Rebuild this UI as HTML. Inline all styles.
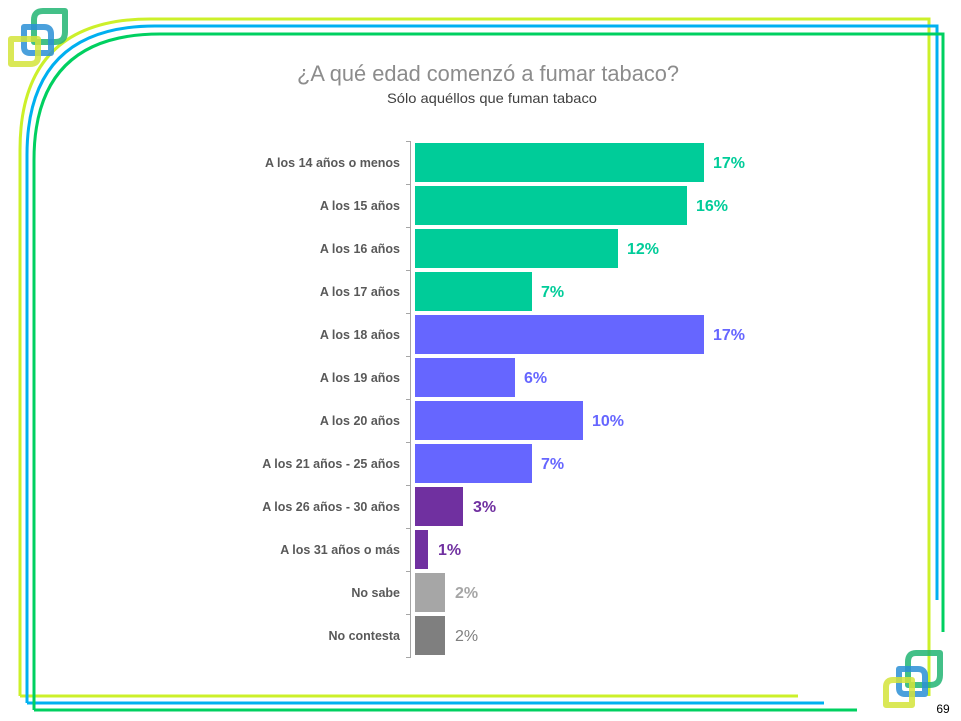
<!DOCTYPE html>
<html><head><meta charset="utf-8"><style>
html,body{margin:0;padding:0;background:#fff;}
svg{display:block;}
</style></head><body>
<svg width="961" height="721" viewBox="0 0 961 721" xmlns="http://www.w3.org/2000/svg" font-family="Liberation Sans, sans-serif">
<g fill="none" stroke-width="3">
<path d="M20,696 L20,150 Q20,19 150,19 L929,19 L929,696" stroke="#ccf02a"/>
<path d="M20,696 L798,696" stroke="#ccf02a"/>
<path d="M27,703 L27,155 Q27,26 155,26 L937,26 L937,600" stroke="#00b0f0"/>
<path d="M27,703 L824,703" stroke="#00b0f0"/>
<path d="M34,710 L34,160 Q34,34 160,34 L943,34 L943,632" stroke="#00d060"/>
<path d="M34,710 L857,710" stroke="#00d060"/>
</g>
<g fill="none" stroke-width="6" stroke-linejoin="round">
<path d="M43,11 H65 V32 Q65,42 55,42 H34 V20 Q34,11 43,11 Z" stroke="#22b573" opacity="0.85"/>
<path d="M24,27 H44 Q51,27 51,34 V53 H30 Q24,53 24,47 Z" stroke="#2a8fd6" opacity="0.85"/>
<path d="M11,39 H38 V57 Q38,64 30,64 H11 Z" stroke="#d4e43a" opacity="0.85"/>
<path d="M916,653 H940 V675 Q940,685 930,685 H908 V662 Q908,653 916,653 Z" stroke="#22b573" opacity="0.85"/>
<path d="M899,669 H918 Q925,669 925,676 V694 H905 Q899,694 899,688 Z" stroke="#2a8fd6" opacity="0.85"/>
<path d="M893,680 H912 V705 H886 V687 Q886,680 893,680 Z" stroke="#d4e43a" opacity="0.85"/>
</g>
<text x="943" y="713" font-size="12" fill="#000" text-anchor="middle">69</text>
<text x="488" y="81" font-size="22" fill="#8c8c8c" text-anchor="middle" textLength="382" lengthAdjust="spacingAndGlyphs">¿A qué edad comenzó a fumar tabaco?</text>
<text x="492" y="103" font-size="14" fill="#404040" text-anchor="middle" textLength="210" lengthAdjust="spacingAndGlyphs">Sólo aquéllos que fuman tabaco</text>
<g stroke="#a6a6a6" stroke-width="1">
<line x1="410.5" y1="141" x2="410.5" y2="657"/>
<line x1="406" y1="141.5" x2="411" y2="141.5"/><line x1="406" y1="184.5" x2="411" y2="184.5"/><line x1="406" y1="227.5" x2="411" y2="227.5"/><line x1="406" y1="270.5" x2="411" y2="270.5"/><line x1="406" y1="313.5" x2="411" y2="313.5"/><line x1="406" y1="356.5" x2="411" y2="356.5"/><line x1="406" y1="399.5" x2="411" y2="399.5"/><line x1="406" y1="442.5" x2="411" y2="442.5"/><line x1="406" y1="485.5" x2="411" y2="485.5"/><line x1="406" y1="528.5" x2="411" y2="528.5"/><line x1="406" y1="571.5" x2="411" y2="571.5"/><line x1="406" y1="614.5" x2="411" y2="614.5"/><line x1="406" y1="657.5" x2="411" y2="657.5"/>
</g>
<g>
<rect x="415" y="143" width="289" height="39" fill="#00cc99"/>
<rect x="415" y="186" width="272" height="39" fill="#00cc99"/>
<rect x="415" y="229" width="203" height="39" fill="#00cc99"/>
<rect x="415" y="272" width="117" height="39" fill="#00cc99"/>
<rect x="415" y="315" width="289" height="39" fill="#6666ff"/>
<rect x="415" y="358" width="100" height="39" fill="#6666ff"/>
<rect x="415" y="401" width="168" height="39" fill="#6666ff"/>
<rect x="415" y="444" width="117" height="39" fill="#6666ff"/>
<rect x="415" y="487" width="48" height="39" fill="#7030a0"/>
<rect x="415" y="530" width="13" height="39" fill="#7030a0"/>
<rect x="415" y="573" width="30" height="39" fill="#a6a6a6"/>
<rect x="415" y="616" width="30" height="39" fill="#7f7f7f"/>
</g>
<g font-size="12.5" font-weight="bold" fill="#595959" text-anchor="end">
<text x="400" y="167">A los 14 años o menos</text>
<text x="400" y="210">A los 15 años</text>
<text x="400" y="253">A los 16 años</text>
<text x="400" y="296">A los 17 años</text>
<text x="400" y="339">A los 18 años</text>
<text x="400" y="382">A los 19 años</text>
<text x="400" y="425">A los 20 años</text>
<text x="400" y="468">A los 21 años - 25 años</text>
<text x="400" y="511">A los 26 años - 30 años</text>
<text x="400" y="554">A los 31 años o más</text>
<text x="400" y="597">No sabe</text>
<text x="400" y="640">No contesta</text>
</g>
<g font-size="16" font-weight="bold">
<text x="713" y="168" fill="#00cc99">17%</text>
<text x="696" y="211" fill="#00cc99">16%</text>
<text x="627" y="254" fill="#00cc99">12%</text>
<text x="541" y="297" fill="#00cc99">7%</text>
<text x="713" y="340" fill="#6666ff">17%</text>
<text x="524" y="383" fill="#6666ff">6%</text>
<text x="592" y="426" fill="#6666ff">10%</text>
<text x="541" y="469" fill="#6666ff">7%</text>
<text x="473" y="512" fill="#7030a0">3%</text>
<text x="438" y="555" fill="#7030a0">1%</text>
<text x="455" y="598" fill="#a6a6a6">2%</text>
<text x="455" y="641" fill="#7f7f7f" font-weight="normal">2%</text>
</g>
</svg>
</body></html>
